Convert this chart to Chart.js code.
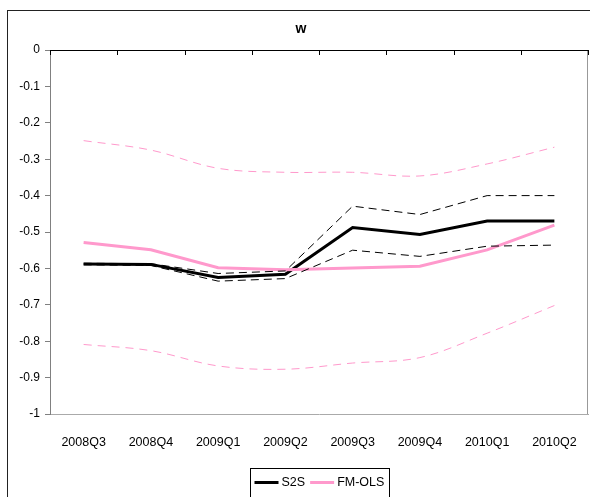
<!DOCTYPE html>
<html>
<head>
<meta charset="utf-8">
<script src="https://cdn.jsdelivr.net/npm/chart.js@4"></script>
<style>
  html, body { margin: 0; padding: 0; background: #fff; }
  #wrap { width: 590px; height: 497px; }
</style>
</head>
<body>
<div id="wrap"><canvas id="chart" width="590" height="497"></canvas></div>
<script>
// Données
const categories = ['2008Q3', '2008Q4', '2009Q1', '2009Q2', '2009Q3', '2009Q4', '2010Q1', '2010Q2'];
const s2s      = [-0.588, -0.589, -0.625, -0.616, -0.488, -0.507, -0.470, -0.470];
const s2sUpper = [-0.586, -0.587, -0.614, -0.607, -0.429, -0.452, -0.400, -0.400];
const s2sLower = [-0.590, -0.592, -0.635, -0.628, -0.550, -0.567, -0.539, -0.536];
const fmols    = [-0.529, -0.549, -0.598, -0.604, -0.599, -0.594, -0.549, -0.481];
const fmUpper  = [-0.249, -0.275, -0.325, -0.336, -0.336, -0.346, -0.313, -0.267];
const fmLower  = [-0.809, -0.826, -0.868, -0.877, -0.860, -0.845, -0.778, -0.702];
const yMin = -1;
const yMax = 0;
const yStep = 0.1;
const chartTitle = 'w';
const legendOrder = ['S2S', 'FM-OLS'];

const PINK = '#ff99cc';
const FONT = "'Liberation Sans', Arial, sans-serif";

// Cadre, axe du haut, titre et légende
const decor = {
    id: 'decor',
    beforeDraw(chart) {
        const ctx = chart.ctx;
        ctx.save();
        ctx.fillStyle = '#fff';
        ctx.fillRect(0, 0, chart.width, chart.height);
        ctx.strokeStyle = '#222';
        ctx.lineWidth = 1;
        ctx.strokeRect(7.5, 10.5, chart.width + 10, chart.height + 10);
        ctx.restore();
    },
    afterDraw(chart) {
        const ctx = chart.ctx;
        const area = chart.chartArea;
        const x = chart.scales.x;
        const n = categories.length;
        ctx.save();
        // bord droit de la zone de traçage
        ctx.strokeStyle = '#999';
        ctx.lineWidth = 1;
        ctx.beginPath();
        ctx.moveTo(Math.round(area.right) - 0.5, area.top);
        ctx.lineTo(Math.round(area.right) - 0.5, area.bottom);
        ctx.stroke();
        // axe des catégories en y = 0, graduations vers le bas
        ctx.strokeStyle = '#000';
        ctx.beginPath();
        ctx.moveTo(area.left, Math.round(area.top) + 0.5);
        ctx.lineTo(area.right, Math.round(area.top) + 0.5);
        for (let i = 0; i <= n; i++) {
            const px = Math.round(x.left + i * x.width / n) + 0.5;
            ctx.moveTo(px, area.top);
            ctx.lineTo(px, area.top + 5);
        }
        ctx.stroke();
        // titre
        ctx.fillStyle = '#000';
        ctx.font = 'bold 14px ' + FONT;
        ctx.textAlign = 'center';
        ctx.textBaseline = 'middle';
        ctx.fillText(chartTitle, 301, 29);
        // légende
        const items = legendOrder.map(l => chart.data.datasets.find(d => d.label === l));
        ctx.font = '12.5px ' + FONT;
        const lineLen = 24;
        let total = 4;
        items.forEach(d => {
            total += lineLen + 3 + ctx.measureText(d.label).width + 5;
        });
        const cx = (area.left + area.right) / 2;
        let lx = Math.round(cx - total / 2) + 0.5;
        const top = 468.5;
        ctx.strokeStyle = '#000';
        ctx.lineWidth = 1;
        ctx.strokeRect(lx, top, Math.round(total), 40);
        const ly = top + 14;
        let px = lx + 4;
        ctx.textAlign = 'left';
        items.forEach(d => {
            ctx.strokeStyle = d.borderColor;
            ctx.lineWidth = 3;
            ctx.beginPath();
            ctx.moveTo(px, ly);
            ctx.lineTo(px + lineLen, ly);
            ctx.stroke();
            px += lineLen + 3;
            ctx.fillStyle = '#000';
            ctx.fillText(d.label, px, ly);
            px += ctx.measureText(d.label).width + 5;
        });
        ctx.restore();
    }
};

const ctx = document.getElementById('chart').getContext('2d');
const chart = new Chart(ctx, {
    type: 'line',
    data: {
        labels: categories,
        datasets: [
            { label: 'S2S upper', data: s2sUpper, borderColor: '#000', borderWidth: 1, borderDash: [8, 5], pointRadius: 0, tension: 0 },
            { label: 'S2S lower', data: s2sLower, borderColor: '#000', borderWidth: 1, borderDash: [8, 5], pointRadius: 0, tension: 0 },
            { label: 'FM-OLS upper', data: fmUpper, borderColor: PINK, borderWidth: 1, borderDash: [8, 6], pointRadius: 0, tension: 0.35 },
            { label: 'FM-OLS lower', data: fmLower, borderColor: PINK, borderWidth: 1, borderDash: [8, 6], pointRadius: 0, tension: 0.35 },
            { label: 'FM-OLS', data: fmols, borderColor: PINK, borderWidth: 3, pointRadius: 0, tension: 0 },
            { label: 'S2S', data: s2s, borderColor: '#000', borderWidth: 3, pointRadius: 0, tension: 0 }
        ]
    },
    options: {
        responsive: false,
        animation: false,
        devicePixelRatio: 1,
        layout: { padding: { top: 50, right: 2, left: 0, bottom: 0 } },
        plugins: {
            legend: { display: false },
            title: { display: false },
            tooltip: { enabled: false }
        },
        scales: {
            x: {
                offset: true,
                grid: { drawOnChartArea: false, drawTicks: true, tickLength: 21, color: 'rgba(0,0,0,0)' },
                border: { color: '#aaa', width: 1 },
                ticks: { color: '#000', font: { family: FONT, size: 12.5 }, padding: 0, maxRotation: 0, autoSkip: false },
                afterFit(scale) { scale.height = 83; }
            },
            y: {
                min: yMin,
                max: yMax,
                grid: { drawOnChartArea: false, drawTicks: true, tickLength: 5, color: '#808080' },
                border: { color: '#808080', width: 1 },
                ticks: {
                    stepSize: yStep,
                    color: '#000',
                    padding: 5,
                    font: { family: FONT, size: 12 },
                    callback: v => String(+v.toFixed(1))
                },
                afterFit(scale) { scale.width = 50; }
            }
        }
    },
    plugins: [decor]
});
</script>
</body>
</html>
